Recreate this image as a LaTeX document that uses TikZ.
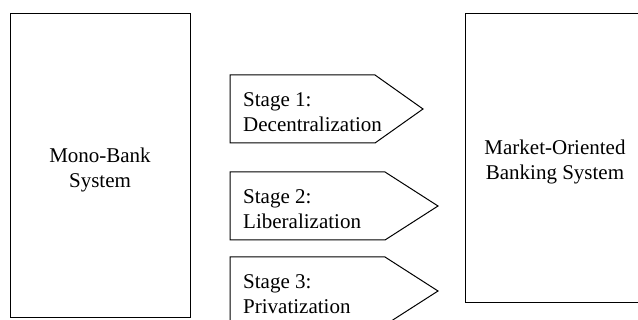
\documentclass[tikz,border=0pt]{standalone}
\usepackage{fontspec}
\setmainfont{Liberation Serif}
\begin{document}
\begin{tikzpicture}[x=1pt,y=-1pt,
  txt/.style={font=\fontsize{21}{24.5}\selectfont, align=center, inner sep=0pt},
  stagetxt/.style={font=\fontsize{21}{24.5}\selectfont, align=left, inner sep=0pt, anchor=west},
  outline/.style={draw=black, line width=1pt}]
\useasboundingbox (0,0) rectangle (638,320);
% left box
\draw[outline] (10,14) rectangle (190,318);
\node[txt] (mono) at (100,170) {Mono-Bank\\System};
% right box
\draw[outline] (465,14) rectangle (650,303);
\node[txt] (market) at (555,162) {Market-Oriented\\Banking System};
% stage arrows
\draw[outline] (230,75) -- (375,75) -- (423,109) -- (375,143) -- (230,143) -- cycle;
\node[stagetxt] (s1) at (243,112) {Stage 1:\\Decentralization};
\draw[outline] (230,172) -- (385,172) -- (438,206) -- (385,240) -- (230,240) -- cycle;
\node[stagetxt] (s2) at (243,209) {Stage 2:\\Liberalization};
\draw[outline] (230,257) -- (385,257) -- (438,291) -- (385,325) -- (230,325) -- cycle;
\node[stagetxt] (s3) at (243,294) {Stage 3:\\Privatization};
\end{tikzpicture}
\end{document}
